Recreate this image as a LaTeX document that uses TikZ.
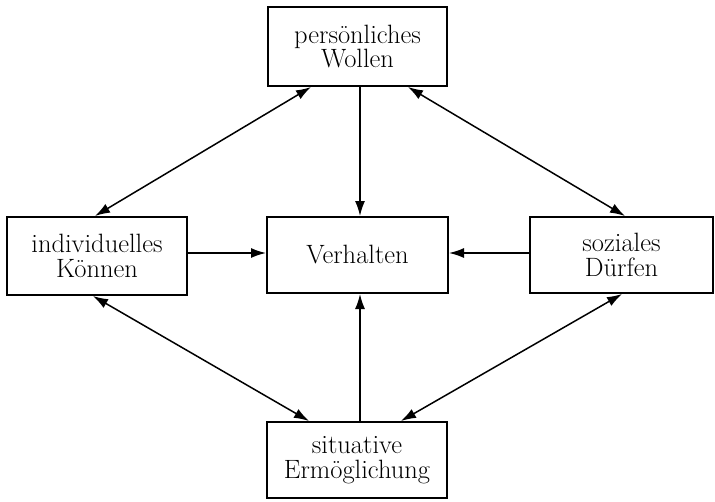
\documentclass[tikz,border=0pt]{standalone}
\usetikzlibrary{arrows.meta}
\begin{document}
\begin{tikzpicture}[x=1pt,y=-1pt,
  box/.style={draw=black, line width=2pt, align=center, font=\fontsize{26.5}{24.5}\selectfont, inner sep=0pt, minimum height=76pt},
  arr/.style={line width=1.5pt, -{Latex[length=15pt,width=10pt]}},
  darr/.style={line width=1.5pt, {Latex[length=15pt,width=10pt]}-{Latex[length=15pt,width=10pt]}}]
\useasboundingbox (0,0) rectangle (715,501);
\node[box, minimum width=179pt, minimum height=79pt] (top) at (357.5,46.5) {persönliches\\Wollen};
\node[box, minimum width=180pt, minimum height=78pt] (left) at (97,256) {individuelles\\Können};
\node[box, minimum width=181pt] (center) at (357.5,255) {Verhalten};
\node[box, minimum width=183pt] (right) at (621.5,255) {soziales\\Dürfen};
\node[box, minimum width=180pt] (bottom) at (357,460) {situative\\Ermöglichung};
% diagonal double arrows
\draw[darr] ([xshift=44pt]top.south west) -- ([xshift=-2pt]left.north);
\draw[darr] ([xshift=-40pt]top.south east) -- ([xshift=3.5pt]right.north);
\draw[darr] ([xshift=-4pt]left.south) -- ([xshift=43pt]bottom.north west);
\draw[darr] ([xshift=0.5pt]right.south) -- ([xshift=-47pt]bottom.north east);
% straight arrows into Verhalten
\draw[arr] ([xshift=2.5pt]top.south) -- ([xshift=2.5pt]center.north);
\draw[arr] ([xshift=3pt]bottom.north) -- ([xshift=2.5pt]center.south);
\draw[arr] ([yshift=3pt]left.east) -- ([yshift=3pt]left.east -| center.west);
\draw[arr] ([yshift=2pt]right.west) -- ([yshift=2pt]right.west -| center.east);
\end{tikzpicture}
\end{document}
